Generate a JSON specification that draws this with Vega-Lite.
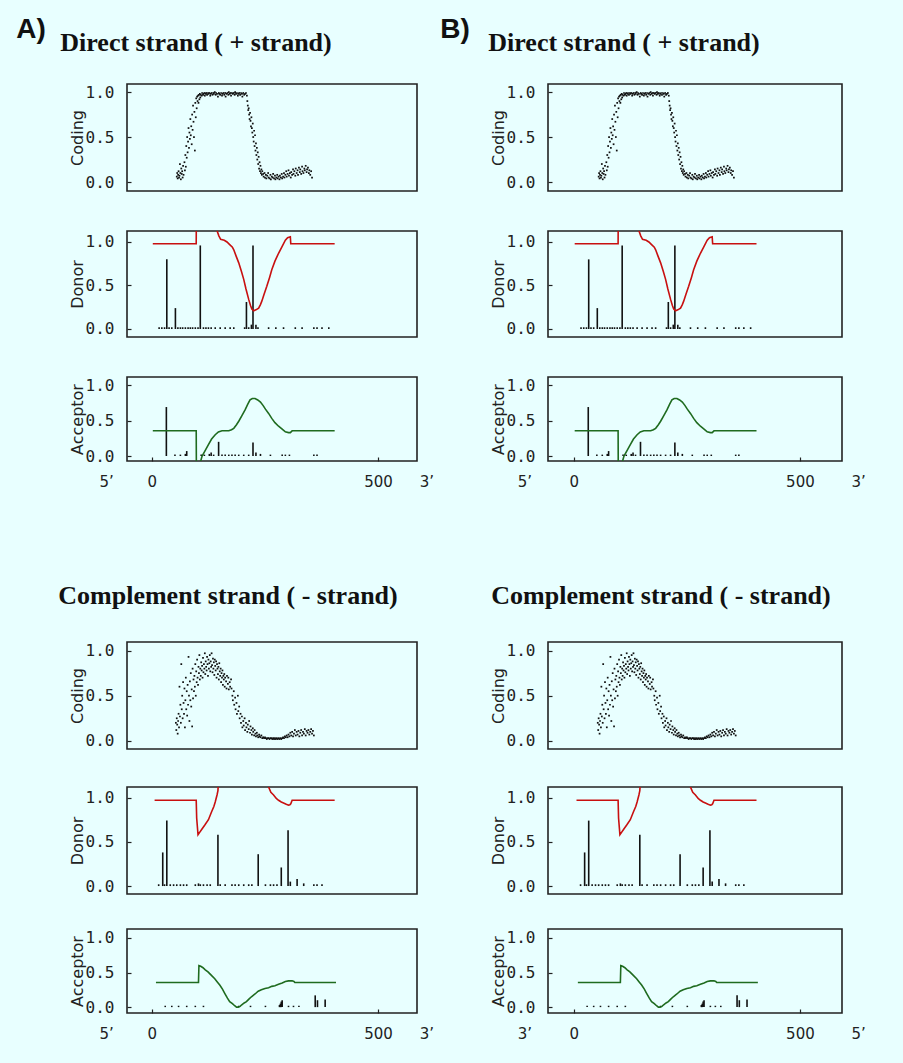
{
"$schema": "https://vega.github.io/schema/vega-lite/v6.json",
"usermeta": {"embedOptions": {"actions": false}},
"background": "#e8ffff",
"padding": {"left": 16, "top": 16, "right": 38, "bottom": 25},
"config": {
 "view": {"stroke": "#222222", "strokeWidth": 1.6},
 "axis": {"grid": false, "domain": false, "tickSize": -4, "tickColor": "#222222", "tickWidth": 1.2, "labelFont": "DejaVu Sans Mono", "labelFontSize": 16, "labelColor": "#222222", "labelPadding": 17, "titleFont": "DejaVu Sans", "titleFontSize": 16, "titleFontWeight": "normal", "titleColor": "#222222", "titlePadding": 0},
 "axisX": {"labelFont": "DejaVu Sans", "labelFontSize": 15, "labelPadding": 17, "labelFlush": false, "labelOverlap": false},
 "text": {"font": "DejaVu Sans", "fontSize": 15, "color": "#222222"},
 "title": {"anchor": "start", "frame": "bounds", "color": "#111111"}
},
"datasets": {
 "codD": [{"x":55,"y":0.06},{"x":56,"y":0.1},{"x":57,"y":0.04},{"x":58,"y":0.08},{"x":59,"y":0.12},{"x":60,"y":0.05},{"x":61,"y":0.07},{"x":62,"y":0.2},{"x":63,"y":0.1},{"x":64,"y":0.03},{"x":65,"y":0.15},{"x":66,"y":0.09},{"x":67,"y":0.12},{"x":68,"y":0.05},{"x":69,"y":0.18},{"x":70,"y":0.08},{"x":72,"y":0.22},{"x":73,"y":0.13},{"x":74,"y":0.3},{"x":75,"y":0.17},{"x":76,"y":0.4},{"x":77,"y":0.27},{"x":78,"y":0.5},{"x":79,"y":0.33},{"x":80,"y":0.45},{"x":81,"y":0.6},{"x":82,"y":0.38},{"x":83,"y":0.55},{"x":84,"y":0.48},{"x":85,"y":0.7},{"x":86,"y":0.52},{"x":87,"y":0.62},{"x":88,"y":0.42},{"x":89,"y":0.75},{"x":90,"y":0.58},{"x":91,"y":0.85},{"x":92,"y":0.67},{"x":93,"y":0.5},{"x":94,"y":0.78},{"x":95,"y":0.35},{"x":96,"y":0.88},{"x":97,"y":0.72},{"x":98,"y":0.93},{"x":99,"y":0.82},{"x":100,"y":0.95},{"x":101,"y":0.9},{"x":102,"y":0.96},{"x":103,"y":0.88},{"x":104,"y":0.97},{"x":105,"y":0.92},{"x":106,"y":0.98},{"x":107,"y":0.94},{"x":108,"y":0.97},{"x":110,"y":0.96},{"x":111,"y":0.99},{"x":113,"y":0.97},{"x":114,"y":0.98},{"x":116,"y":0.99},{"x":117,"y":0.96},{"x":119,"y":0.98},{"x":120,"y":0.99},{"x":122,"y":0.97},{"x":124,"y":0.99},{"x":125,"y":0.98},{"x":127,"y":0.99},{"x":129,"y":0.96},{"x":130,"y":0.98},{"x":132,"y":0.99},{"x":134,"y":0.97},{"x":136,"y":0.99},{"x":137,"y":0.98},{"x":139,"y":1.0},{"x":141,"y":0.97},{"x":142,"y":0.99},{"x":144,"y":0.98},{"x":146,"y":0.95},{"x":148,"y":0.99},{"x":149,"y":0.98},{"x":151,"y":0.97},{"x":153,"y":0.99},{"x":155,"y":0.96},{"x":156,"y":0.98},{"x":158,"y":0.99},{"x":160,"y":0.97},{"x":162,"y":0.99},{"x":163,"y":0.95},{"x":165,"y":0.98},{"x":167,"y":0.99},{"x":169,"y":0.97},{"x":170,"y":1.0},{"x":172,"y":0.98},{"x":174,"y":0.99},{"x":175,"y":0.96},{"x":177,"y":0.99},{"x":179,"y":0.98},{"x":181,"y":0.99},{"x":183,"y":0.97},{"x":184,"y":1.0},{"x":186,"y":0.98},{"x":188,"y":0.99},{"x":190,"y":0.96},{"x":191,"y":0.98},{"x":193,"y":0.99},{"x":195,"y":0.97},{"x":197,"y":0.99},{"x":199,"y":0.98},{"x":200,"y":0.95},{"x":202,"y":0.99},{"x":204,"y":0.97},{"x":206,"y":0.98},{"x":208,"y":0.99},{"x":210,"y":0.96},{"x":211,"y":0.9},{"x":212,"y":0.85},{"x":213,"y":0.8},{"x":214,"y":0.82},{"x":215,"y":0.75},{"x":216,"y":0.7},{"x":217,"y":0.77},{"x":218,"y":0.68},{"x":219,"y":0.62},{"x":220,"y":0.72},{"x":221,"y":0.6},{"x":222,"y":0.55},{"x":223,"y":0.65},{"x":224,"y":0.5},{"x":225,"y":0.45},{"x":226,"y":0.57},{"x":227,"y":0.4},{"x":228,"y":0.52},{"x":229,"y":0.35},{"x":230,"y":0.43},{"x":231,"y":0.3},{"x":232,"y":0.38},{"x":233,"y":0.25},{"x":234,"y":0.33},{"x":235,"y":0.2},{"x":236,"y":0.28},{"x":237,"y":0.15},{"x":238,"y":0.22},{"x":239,"y":0.12},{"x":240,"y":0.18},{"x":241,"y":0.1},{"x":242,"y":0.14},{"x":243,"y":0.08},{"x":244,"y":0.12},{"x":246,"y":0.09},{"x":247,"y":0.06},{"x":249,"y":0.1},{"x":250,"y":0.05},{"x":252,"y":0.08},{"x":253,"y":0.04},{"x":255,"y":0.07},{"x":257,"y":0.1},{"x":258,"y":0.05},{"x":260,"y":0.04},{"x":262,"y":0.08},{"x":263,"y":0.03},{"x":265,"y":0.06},{"x":267,"y":0.05},{"x":268,"y":0.09},{"x":270,"y":0.04},{"x":272,"y":0.07},{"x":273,"y":0.03},{"x":275,"y":0.05},{"x":277,"y":0.08},{"x":278,"y":0.04},{"x":280,"y":0.06},{"x":282,"y":0.03},{"x":283,"y":0.07},{"x":285,"y":0.05},{"x":287,"y":0.09},{"x":288,"y":0.04},{"x":290,"y":0.06},{"x":292,"y":0.1},{"x":293,"y":0.05},{"x":295,"y":0.08},{"x":297,"y":0.12},{"x":298,"y":0.06},{"x":300,"y":0.09},{"x":302,"y":0.13},{"x":303,"y":0.07},{"x":305,"y":0.1},{"x":307,"y":0.05},{"x":308,"y":0.11},{"x":310,"y":0.08},{"x":312,"y":0.14},{"x":313,"y":0.09},{"x":315,"y":0.12},{"x":317,"y":0.07},{"x":318,"y":0.15},{"x":320,"y":0.1},{"x":322,"y":0.13},{"x":323,"y":0.08},{"x":325,"y":0.16},{"x":327,"y":0.11},{"x":328,"y":0.14},{"x":330,"y":0.09},{"x":332,"y":0.17},{"x":333,"y":0.12},{"x":335,"y":0.1},{"x":337,"y":0.15},{"x":338,"y":0.13},{"x":340,"y":0.18},{"x":342,"y":0.11},{"x":343,"y":0.14},{"x":345,"y":0.16},{"x":347,"y":0.1},{"x":348,"y":0.13},{"x":350,"y":0.08},{"x":352,"y":0.12},{"x":354,"y":0.05}],
 "codC": [{"x":53,"y":0.2},{"x":54,"y":0.12},{"x":55,"y":0.25},{"x":56,"y":0.18},{"x":57,"y":0.08},{"x":58,"y":0.22},{"x":59,"y":0.3},{"x":60,"y":0.15},{"x":61,"y":0.6},{"x":62,"y":0.27},{"x":63,"y":0.4},{"x":64,"y":0.2},{"x":65,"y":0.85},{"x":66,"y":0.35},{"x":67,"y":0.5},{"x":68,"y":0.25},{"x":69,"y":0.65},{"x":70,"y":0.42},{"x":71,"y":0.3},{"x":72,"y":0.58},{"x":73,"y":0.15},{"x":74,"y":0.45},{"x":75,"y":0.7},{"x":76,"y":0.35},{"x":77,"y":0.55},{"x":78,"y":0.28},{"x":79,"y":0.62},{"x":80,"y":0.4},{"x":81,"y":0.93},{"x":82,"y":0.5},{"x":83,"y":0.22},{"x":84,"y":0.66},{"x":85,"y":0.45},{"x":86,"y":0.75},{"x":87,"y":0.38},{"x":88,"y":0.57},{"x":89,"y":0.16},{"x":90,"y":0.8},{"x":91,"y":0.47},{"x":92,"y":0.68},{"x":93,"y":0.55},{"x":94,"y":0.72},{"x":95,"y":0.6},{"x":96,"y":0.85},{"x":97,"y":0.5},{"x":98,"y":0.77},{"x":99,"y":0.65},{"x":100,"y":0.9},{"x":101,"y":0.7},{"x":102,"y":0.62},{"x":103,"y":0.82},{"x":104,"y":0.75},{"x":105,"y":0.95},{"x":106,"y":0.68},{"x":107,"y":0.8},{"x":108,"y":0.72},{"x":109,"y":0.87},{"x":110,"y":0.78},{"x":111,"y":0.83},{"x":112,"y":0.7},{"x":113,"y":0.92},{"x":114,"y":0.76},{"x":115,"y":0.85},{"x":116,"y":0.8},{"x":117,"y":0.97},{"x":118,"y":0.74},{"x":119,"y":0.88},{"x":120,"y":0.82},{"x":121,"y":0.78},{"x":122,"y":0.93},{"x":123,"y":0.85},{"x":124,"y":0.72},{"x":125,"y":0.9},{"x":126,"y":0.8},{"x":127,"y":0.86},{"x":128,"y":0.95},{"x":129,"y":0.77},{"x":130,"y":0.88},{"x":131,"y":0.82},{"x":132,"y":0.97},{"x":133,"y":0.84},{"x":134,"y":0.76},{"x":135,"y":0.91},{"x":136,"y":0.8},{"x":137,"y":0.87},{"x":138,"y":0.73},{"x":139,"y":0.9},{"x":140,"y":0.83},{"x":141,"y":0.78},{"x":142,"y":0.88},{"x":143,"y":0.7},{"x":144,"y":0.85},{"x":145,"y":0.8},{"x":146,"y":0.74},{"x":147,"y":0.82},{"x":148,"y":0.68},{"x":149,"y":0.86},{"x":150,"y":0.77},{"x":151,"y":0.72},{"x":152,"y":0.8},{"x":153,"y":0.65},{"x":154,"y":0.75},{"x":155,"y":0.7},{"x":156,"y":0.78},{"x":157,"y":0.62},{"x":158,"y":0.72},{"x":159,"y":0.68},{"x":160,"y":0.74},{"x":161,"y":0.6},{"x":162,"y":0.7},{"x":164,"y":0.66},{"x":165,"y":0.58},{"x":166,"y":0.72},{"x":168,"y":0.63},{"x":169,"y":0.7},{"x":170,"y":0.57},{"x":172,"y":0.65},{"x":173,"y":0.6},{"x":175,"y":0.68},{"x":176,"y":0.58},{"x":178,"y":0.5},{"x":179,"y":0.45},{"x":181,"y":0.55},{"x":182,"y":0.4},{"x":184,"y":0.48},{"x":185,"y":0.35},{"x":187,"y":0.42},{"x":188,"y":0.3},{"x":190,"y":0.5},{"x":191,"y":0.33},{"x":193,"y":0.38},{"x":194,"y":0.25},{"x":196,"y":0.3},{"x":197,"y":0.2},{"x":199,"y":0.27},{"x":200,"y":0.15},{"x":202,"y":0.22},{"x":203,"y":0.17},{"x":205,"y":0.25},{"x":206,"y":0.12},{"x":208,"y":0.2},{"x":209,"y":0.15},{"x":211,"y":0.1},{"x":212,"y":0.18},{"x":214,"y":0.13},{"x":215,"y":0.22},{"x":217,"y":0.09},{"x":218,"y":0.16},{"x":220,"y":0.12},{"x":221,"y":0.07},{"x":223,"y":0.14},{"x":224,"y":0.1},{"x":226,"y":0.06},{"x":227,"y":0.12},{"x":229,"y":0.08},{"x":230,"y":0.05},{"x":232,"y":0.09},{"x":233,"y":0.06},{"x":235,"y":0.04},{"x":237,"y":0.07},{"x":238,"y":0.05},{"x":240,"y":0.04},{"x":242,"y":0.06},{"x":244,"y":0.03},{"x":246,"y":0.04},{"x":248,"y":0.03},{"x":250,"y":0.04},{"x":252,"y":0.03},{"x":254,"y":0.02},{"x":256,"y":0.03},{"x":258,"y":0.03},{"x":260,"y":0.02},{"x":262,"y":0.03},{"x":264,"y":0.03},{"x":266,"y":0.02},{"x":268,"y":0.03},{"x":270,"y":0.02},{"x":272,"y":0.03},{"x":274,"y":0.02},{"x":276,"y":0.03},{"x":278,"y":0.02},{"x":280,"y":0.03},{"x":282,"y":0.02},{"x":284,"y":0.03},{"x":286,"y":0.02},{"x":288,"y":0.03},{"x":290,"y":0.04},{"x":292,"y":0.03},{"x":294,"y":0.05},{"x":296,"y":0.04},{"x":298,"y":0.06},{"x":300,"y":0.04},{"x":302,"y":0.07},{"x":304,"y":0.05},{"x":306,"y":0.09},{"x":308,"y":0.06},{"x":310,"y":0.1},{"x":312,"y":0.05},{"x":314,"y":0.08},{"x":316,"y":0.12},{"x":318,"y":0.06},{"x":320,"y":0.1},{"x":322,"y":0.07},{"x":324,"y":0.11},{"x":326,"y":0.05},{"x":328,"y":0.09},{"x":330,"y":0.12},{"x":332,"y":0.06},{"x":334,"y":0.1},{"x":336,"y":0.08},{"x":338,"y":0.13},{"x":340,"y":0.06},{"x":342,"y":0.11},{"x":344,"y":0.09},{"x":346,"y":0.12},{"x":348,"y":0.07},{"x":350,"y":0.1},{"x":352,"y":0.13},{"x":354,"y":0.08},{"x":356,"y":0.11},{"x":358,"y":0.06}],
 "donDs": [{"x":16,"v":0.02},{"x":22,"v":0.02},{"x":28,"v":0.02},{"x":33,"v":0.8},{"x":38,"v":0.02},{"x":44,"v":0.02},{"x":52,"v":0.24},{"x":57.5,"v":0.02},{"x":63,"v":0.02},{"x":68,"v":0.02},{"x":74,"v":0.02},{"x":80,"v":0.02},{"x":85,"v":0.02},{"x":90,"v":0.02},{"x":96,"v":0.02},{"x":102,"v":0.02},{"x":107,"v":0.96},{"x":114,"v":0.02},{"x":119.5,"v":0.02},{"x":125,"v":0.02},{"x":131,"v":0.02},{"x":140,"v":0.02},{"x":151,"v":0.02},{"x":162,"v":0.02},{"x":173,"v":0.02},{"x":181,"v":0.02},{"x":205,"v":0.02},{"x":209,"v":0.31},{"x":214,"v":0.02},{"x":220,"v":0.05},{"x":223.5,"v":0.96},{"x":230,"v":0.05},{"x":234.5,"v":0.02},{"x":258,"v":0.02},{"x":274,"v":0.02},{"x":291,"v":0.02},{"x":317,"v":0.02},{"x":332,"v":0.02},{"x":358,"v":0.02},{"x":365,"v":0.02},{"x":376,"v":0.02},{"x":391,"v":0.02}],
 "donDl": [{"x":2,"y":0.98},{"x":98,"y":0.98},{"x":98.5,"y":1.6},{"x":120,"y":1.9},{"x":140,"y":1.3},{"x":144,"y":1.13},{"x":148,"y":1.07},{"x":152,"y":1.03},{"x":160,"y":1.02},{"x":166,"y":1.0},{"x":172,"y":0.97},{"x":178,"y":0.94},{"x":181,"y":0.91},{"x":186,"y":0.84},{"x":192,"y":0.76},{"x":198,"y":0.66},{"x":203,"y":0.57},{"x":208,"y":0.46},{"x":214,"y":0.34},{"x":218,"y":0.27},{"x":221,"y":0.23},{"x":225,"y":0.21},{"x":230,"y":0.22},{"x":236,"y":0.24},{"x":240,"y":0.28},{"x":243,"y":0.32},{"x":248,"y":0.4},{"x":254,"y":0.49},{"x":260,"y":0.59},{"x":265,"y":0.68},{"x":272,"y":0.78},{"x":280,"y":0.87},{"x":288,"y":0.95},{"x":295,"y":1.02},{"x":300,"y":1.05},{"x":306,"y":1.06},{"x":307,"y":0.98},{"x":404,"y":0.98}],
 "accDs": [{"x":32,"v":0.69},{"x":51,"v":0.02},{"x":63,"v":0.02},{"x":74,"v":0.03},{"x":77,"v":0.07},{"x":109,"v":0.02},{"x":116,"v":0.02},{"x":127,"v":0.03},{"x":131,"v":0.05},{"x":136.5,"v":0.02},{"x":147.5,"v":0.2},{"x":155,"v":0.02},{"x":162,"v":0.02},{"x":170,"v":0.02},{"x":177,"v":0.02},{"x":184,"v":0.02},{"x":192,"v":0.02},{"x":203,"v":0.02},{"x":214,"v":0.02},{"x":223.5,"v":0.19},{"x":230,"v":0.05},{"x":240,"v":0.03},{"x":262,"v":0.02},{"x":288,"v":0.02},{"x":295,"v":0.02},{"x":304,"v":0.02},{"x":358,"v":0.02},{"x":365,"v":0.02}],
 "accDl": [{"x":2,"y":0.355},{"x":98,"y":0.355},{"x":98.5,"y":-0.4},{"x":104,"y":-0.3},{"x":107,"y":-0.09},{"x":111,"y":0.0},{"x":118,"y":0.08},{"x":125,"y":0.16},{"x":132,"y":0.24},{"x":140,"y":0.3},{"x":147,"y":0.34},{"x":155,"y":0.355},{"x":170,"y":0.355},{"x":176,"y":0.37},{"x":181,"y":0.39},{"x":187,"y":0.44},{"x":192,"y":0.49},{"x":199,"y":0.57},{"x":206,"y":0.65},{"x":212,"y":0.73},{"x":217,"y":0.79},{"x":222,"y":0.81},{"x":228,"y":0.81},{"x":234,"y":0.79},{"x":240,"y":0.76},{"x":246,"y":0.71},{"x":251,"y":0.66},{"x":258,"y":0.6},{"x":265,"y":0.53},{"x":272,"y":0.47},{"x":280,"y":0.42},{"x":288,"y":0.38},{"x":295,"y":0.34},{"x":302,"y":0.33},{"x":306,"y":0.33},{"x":310,"y":0.355},{"x":404,"y":0.355}],
 "donCs": [{"x":15,"v":0.02},{"x":24,"v":0.38},{"x":28,"v":0.02},{"x":33,"v":0.74},{"x":40.6,"v":0.02},{"x":48,"v":0.02},{"x":55,"v":0.02},{"x":63,"v":0.02},{"x":70,"v":0.02},{"x":77,"v":0.02},{"x":96,"v":0.02},{"x":103,"v":0.03},{"x":107,"v":0.02},{"x":114,"v":0.02},{"x":122,"v":0.02},{"x":129,"v":0.02},{"x":146,"v":0.58},{"x":151,"v":0.02},{"x":162,"v":0.02},{"x":177,"v":0.02},{"x":184,"v":0.02},{"x":192,"v":0.02},{"x":203,"v":0.02},{"x":214,"v":0.02},{"x":221,"v":0.02},{"x":235,"v":0.36},{"x":251,"v":0.02},{"x":262,"v":0.02},{"x":269,"v":0.02},{"x":276.5,"v":0.02},{"x":286,"v":0.21},{"x":301,"v":0.63},{"x":306,"v":0.05},{"x":321,"v":0.08},{"x":335.6,"v":0.03},{"x":358,"v":0.02},{"x":365,"v":0.02},{"x":376,"v":0.02}],
 "donCl": [{"x":6,"y":0.97},{"x":98,"y":0.97},{"x":99,"y":0.77},{"x":102,"y":0.58},{"x":106,"y":0.61},{"x":110,"y":0.64},{"x":117,"y":0.69},{"x":125,"y":0.75},{"x":132,"y":0.84},{"x":137,"y":0.9},{"x":140,"y":0.95},{"x":144,"y":1.03},{"x":146,"y":1.08},{"x":148,"y":1.25},{"x":152,"y":1.6},{"x":200,"y":2.0},{"x":250,"y":1.5},{"x":258,"y":1.12},{"x":263,"y":1.06},{"x":269,"y":1.03},{"x":275,"y":0.99},{"x":280,"y":0.97},{"x":286,"y":0.95},{"x":291,"y":0.94},{"x":297,"y":0.925},{"x":302,"y":0.915},{"x":305,"y":0.92},{"x":307,"y":0.93},{"x":310,"y":0.97},{"x":404,"y":0.97}],
 "accCs": [{"x":29.5,"v":0.02},{"x":44,"v":0.02},{"x":59,"v":0.02},{"x":77,"v":0.02},{"x":96,"v":0.02},{"x":114,"v":0.02},{"x":192,"v":0.02},{"x":218,"v":0.02},{"x":251,"v":0.02},{"x":282,"v":0.03},{"x":284,"v":0.05},{"x":286,"v":0.08},{"x":288,"v":0.1},{"x":302,"v":0.02},{"x":313,"v":0.02},{"x":325,"v":0.02},{"x":361,"v":0.17},{"x":366,"v":0.1},{"x":383,"v":0.11}],
 "accCl": [{"x":9,"y":0.356},{"x":103,"y":0.356},{"x":104,"y":0.6},{"x":108,"y":0.59},{"x":113,"y":0.57},{"x":118,"y":0.54},{"x":124,"y":0.51},{"x":130,"y":0.47},{"x":139,"y":0.41},{"x":145,"y":0.36},{"x":150,"y":0.32},{"x":156,"y":0.26},{"x":161,"y":0.2},{"x":167,"y":0.13},{"x":172,"y":0.08},{"x":178,"y":0.05},{"x":183,"y":0.02},{"x":187,"y":0.0},{"x":191,"y":0.0},{"x":195,"y":0.01},{"x":198,"y":0.03},{"x":204,"y":0.06},{"x":209,"y":0.08},{"x":215,"y":0.12},{"x":220,"y":0.15},{"x":228,"y":0.19},{"x":235,"y":0.23},{"x":242,"y":0.25},{"x":250,"y":0.27},{"x":258,"y":0.28},{"x":265,"y":0.3},{"x":272,"y":0.31},{"x":280,"y":0.33},{"x":288,"y":0.35},{"x":295,"y":0.37},{"x":302,"y":0.38},{"x":310,"y":0.38},{"x":314,"y":0.37},{"x":316,"y":0.356},{"x":407,"y":0.356}],
 "prA": [{"x":-100,"t":"5’"},{"x":608,"t":"3’"}],
 "prB": [{"x":-108,"t":"5’"},{"x":630,"t":"3’"}],
 "prB2": [{"x":-108,"t":"3’"},{"x":630,"t":"5’"}]
},
"hconcat": [
 {
  "title": {"text": "A)", "font": "Liberation Sans", "fontSize": 28, "fontWeight": "bold", "offset": -14, "dx": -42},
  "spacing": 92,
  "vconcat": [
   {
    "title": {"text": "Direct strand ( + strand)", "font": "Liberation Serif", "fontSize": 26, "fontWeight": "bold", "offset": 27, "dx": -8},
    "spacing": 38,
    "vconcat": [
     {"width": 290, "height": 107, "data": {"name": "codD"}, "mark": {"type": "square", "size": 3, "color": "#111111", "opacity": 1},
      "encoding": {"x": {"field": "x", "type": "quantitative", "scale": {"domain": [-55, 586], "nice": false, "zero": false}, "axis": null},
       "y": {"field": "y", "type": "quantitative", "scale": {"domain": [-0.1, 1.09], "nice": false, "zero": false}, "axis": {"values": [0, 0.5, 1], "format": ".1f", "title": "Coding"}}}},
     {"width": 290, "height": 106, "layer": [
      {"data": {"name": "donDs"}, "mark": {"type": "rule", "color": "#111111", "strokeWidth": 1.6},
       "encoding": {"x": {"field": "x", "type": "quantitative", "scale": {"domain": [-55, 586], "nice": false, "zero": false}, "axis": null},
        "y": {"field": "v", "type": "quantitative", "scale": {"domain": [-0.092, 1.126], "nice": false, "zero": false}, "axis": {"values": [0, 0.5, 1], "format": ".1f", "title": "Donor"}}, "y2": {"datum": 0}}},
      {"data": {"name": "donDl"}, "mark": {"type": "line", "color": "#c81010", "strokeWidth": 1.6, "clip": true},
       "encoding": {"x": {"field": "x", "type": "quantitative", "axis": null}, "y": {"field": "y", "type": "quantitative", "axis": {"values": [0, 0.5, 1], "format": ".1f", "title": "Donor"}}}}
     ]},
     {"width": 290, "height": 84, "layer": [
      {"data": {"name": "accDs"}, "mark": {"type": "rule", "color": "#111111", "strokeWidth": 1.6},
       "encoding": {"x": {"field": "x", "type": "quantitative", "scale": {"domain": [-55, 586], "nice": false, "zero": false}, "axis": {"values": [0, 500], "title": null}},
        "y": {"field": "v", "type": "quantitative", "scale": {"domain": [-0.07, 1.113], "nice": false, "zero": false}, "axis": {"values": [0, 0.5, 1], "format": ".1f", "title": "Acceptor"}}, "y2": {"datum": 0}}},
      {"data": {"name": "accDl"}, "mark": {"type": "line", "color": "#1f6b1f", "strokeWidth": 1.6, "clip": true},
       "encoding": {"x": {"field": "x", "type": "quantitative"}, "y": {"field": "y", "type": "quantitative", "axis": {"values": [0, 0.5, 1], "format": ".1f", "title": "Acceptor"}}}},
      {"data": {"name": "prA"}, "mark": {"type": "text", "dy": 21, "baseline": "middle", "align": "center"},
       "encoding": {"x": {"field": "x", "type": "quantitative"}, "y": {"value": "height"}, "text": {"field": "t"}}}
     ]}
    ]
   },
   {
    "title": {"text": "Complement strand ( - strand)", "font": "Liberation Serif", "fontSize": 26, "fontWeight": "bold", "offset": 32, "dx": -10},
    "spacing": 36,
    "vconcat": [
     {"width": 290, "height": 107, "data": {"name": "codC"}, "mark": {"type": "square", "size": 3, "color": "#111111", "opacity": 1},
      "encoding": {"x": {"field": "x", "type": "quantitative", "scale": {"domain": [-55, 586], "nice": false, "zero": false}, "axis": null},
       "y": {"field": "y", "type": "quantitative", "scale": {"domain": [-0.09, 1.095], "nice": false, "zero": false}, "axis": {"values": [0, 0.5, 1], "format": ".1f", "title": "Coding"}}}},
     {"spacing": 33, "vconcat": [
      {"width": 290, "height": 107, "layer": [
       {"data": {"name": "donCs"}, "mark": {"type": "rule", "color": "#111111", "strokeWidth": 1.6},
        "encoding": {"x": {"field": "x", "type": "quantitative", "scale": {"domain": [-55, 586], "nice": false, "zero": false}, "axis": null},
         "y": {"field": "v", "type": "quantitative", "scale": {"domain": [-0.09, 1.12], "nice": false, "zero": false}, "axis": {"values": [0, 0.5, 1], "format": ".1f", "title": "Donor"}}, "y2": {"datum": 0}}},
       {"data": {"name": "donCl"}, "mark": {"type": "line", "color": "#c81010", "strokeWidth": 1.6, "clip": true},
        "encoding": {"x": {"field": "x", "type": "quantitative", "axis": null}, "y": {"field": "y", "type": "quantitative", "axis": {"values": [0, 0.5, 1], "format": ".1f", "title": "Donor"}}}}
      ]},
      {"width": 290, "height": 84, "layer": [
       {"data": {"name": "accCs"}, "mark": {"type": "rule", "color": "#111111", "strokeWidth": 1.6},
        "encoding": {"x": {"field": "x", "type": "quantitative", "scale": {"domain": [-55, 586], "nice": false, "zero": false}, "axis": {"values": [0, 500], "title": null}},
         "y": {"field": "v", "type": "quantitative", "scale": {"domain": [-0.085, 1.13], "nice": false, "zero": false}, "axis": {"values": [0, 0.5, 1], "format": ".1f", "title": "Acceptor"}}, "y2": {"datum": 0}}},
       {"data": {"name": "accCl"}, "mark": {"type": "line", "color": "#1f6b1f", "strokeWidth": 1.6, "clip": true},
        "encoding": {"x": {"field": "x", "type": "quantitative"}, "y": {"field": "y", "type": "quantitative", "axis": {"values": [0, 0.5, 1], "format": ".1f", "title": "Acceptor"}}}},
       {"data": {"name": "prA"}, "mark": {"type": "text", "dy": 21, "baseline": "middle", "align": "center"},
        "encoding": {"x": {"field": "x", "type": "quantitative"}, "y": {"value": "height"}, "text": {"field": "t"}}}
      ]}
     ]}
    ]
   }
  ]
 },
 {
  "title": {"text": "B)", "font": "Liberation Sans", "fontSize": 28, "fontWeight": "bold", "offset": -14, "dx": -48},
  "spacing": 92,
  "vconcat": [
   {
    "title": {"text": "Direct strand ( + strand)", "font": "Liberation Serif", "fontSize": 26, "fontWeight": "bold", "offset": 27, "dx": -1},
    "spacing": 38,
    "vconcat": [
     {"width": 294, "height": 107, "data": {"name": "codD"}, "mark": {"type": "square", "size": 3, "color": "#111111", "opacity": 1},
      "encoding": {"x": {"field": "x", "type": "quantitative", "scale": {"domain": [-57, 593], "nice": false, "zero": false}, "axis": null},
       "y": {"field": "y", "type": "quantitative", "scale": {"domain": [-0.1, 1.09], "nice": false, "zero": false}, "axis": {"values": [0, 0.5, 1], "format": ".1f", "title": "Coding"}}}},
     {"width": 294, "height": 106, "layer": [
      {"data": {"name": "donDs"}, "mark": {"type": "rule", "color": "#111111", "strokeWidth": 1.6},
       "encoding": {"x": {"field": "x", "type": "quantitative", "scale": {"domain": [-57, 593], "nice": false, "zero": false}, "axis": null},
        "y": {"field": "v", "type": "quantitative", "scale": {"domain": [-0.092, 1.126], "nice": false, "zero": false}, "axis": {"values": [0, 0.5, 1], "format": ".1f", "title": "Donor"}}, "y2": {"datum": 0}}},
      {"data": {"name": "donDl"}, "mark": {"type": "line", "color": "#c81010", "strokeWidth": 1.6, "clip": true},
       "encoding": {"x": {"field": "x", "type": "quantitative", "axis": null}, "y": {"field": "y", "type": "quantitative", "axis": {"values": [0, 0.5, 1], "format": ".1f", "title": "Donor"}}}}
     ]},
     {"width": 294, "height": 84, "layer": [
      {"data": {"name": "accDs"}, "mark": {"type": "rule", "color": "#111111", "strokeWidth": 1.6},
       "encoding": {"x": {"field": "x", "type": "quantitative", "scale": {"domain": [-57, 593], "nice": false, "zero": false}, "axis": {"values": [0, 500], "title": null}},
        "y": {"field": "v", "type": "quantitative", "scale": {"domain": [-0.07, 1.113], "nice": false, "zero": false}, "axis": {"values": [0, 0.5, 1], "format": ".1f", "title": "Acceptor"}}, "y2": {"datum": 0}}},
      {"data": {"name": "accDl"}, "mark": {"type": "line", "color": "#1f6b1f", "strokeWidth": 1.6, "clip": true},
       "encoding": {"x": {"field": "x", "type": "quantitative"}, "y": {"field": "y", "type": "quantitative", "axis": {"values": [0, 0.5, 1], "format": ".1f", "title": "Acceptor"}}}},
      {"data": {"name": "prB"}, "mark": {"type": "text", "dy": 21, "baseline": "middle", "align": "center"},
       "encoding": {"x": {"field": "x", "type": "quantitative"}, "y": {"value": "height"}, "text": {"field": "t"}}}
     ]}
    ]
   },
   {
    "title": {"text": "Complement strand ( - strand)", "font": "Liberation Serif", "fontSize": 26, "fontWeight": "bold", "offset": 32, "dx": 2},
    "spacing": 36,
    "vconcat": [
     {"width": 294, "height": 107, "data": {"name": "codC"}, "mark": {"type": "square", "size": 3, "color": "#111111", "opacity": 1},
      "encoding": {"x": {"field": "x", "type": "quantitative", "scale": {"domain": [-57, 593], "nice": false, "zero": false}, "axis": null},
       "y": {"field": "y", "type": "quantitative", "scale": {"domain": [-0.09, 1.095], "nice": false, "zero": false}, "axis": {"values": [0, 0.5, 1], "format": ".1f", "title": "Coding"}}}},
     {"spacing": 33, "vconcat": [
      {"width": 294, "height": 107, "layer": [
       {"data": {"name": "donCs"}, "mark": {"type": "rule", "color": "#111111", "strokeWidth": 1.6},
        "encoding": {"x": {"field": "x", "type": "quantitative", "scale": {"domain": [-57, 593], "nice": false, "zero": false}, "axis": null},
         "y": {"field": "v", "type": "quantitative", "scale": {"domain": [-0.09, 1.12], "nice": false, "zero": false}, "axis": {"values": [0, 0.5, 1], "format": ".1f", "title": "Donor"}}, "y2": {"datum": 0}}},
       {"data": {"name": "donCl"}, "mark": {"type": "line", "color": "#c81010", "strokeWidth": 1.6, "clip": true},
        "encoding": {"x": {"field": "x", "type": "quantitative", "axis": null}, "y": {"field": "y", "type": "quantitative", "axis": {"values": [0, 0.5, 1], "format": ".1f", "title": "Donor"}}}}
      ]},
      {"width": 294, "height": 84, "layer": [
       {"data": {"name": "accCs"}, "mark": {"type": "rule", "color": "#111111", "strokeWidth": 1.6},
        "encoding": {"x": {"field": "x", "type": "quantitative", "scale": {"domain": [-57, 593], "nice": false, "zero": false}, "axis": {"values": [0, 500], "title": null}},
         "y": {"field": "v", "type": "quantitative", "scale": {"domain": [-0.085, 1.13], "nice": false, "zero": false}, "axis": {"values": [0, 0.5, 1], "format": ".1f", "title": "Acceptor"}}, "y2": {"datum": 0}}},
       {"data": {"name": "accCl"}, "mark": {"type": "line", "color": "#1f6b1f", "strokeWidth": 1.6, "clip": true},
        "encoding": {"x": {"field": "x", "type": "quantitative"}, "y": {"field": "y", "type": "quantitative", "axis": {"values": [0, 0.5, 1], "format": ".1f", "title": "Acceptor"}}}},
       {"data": {"name": "prB2"}, "mark": {"type": "text", "dy": 21, "baseline": "middle", "align": "center"},
        "encoding": {"x": {"field": "x", "type": "quantitative"}, "y": {"value": "height"}, "text": {"field": "t"}}}
      ]}
     ]}
    ]
   }
  ]
 }
],
"spacing": 5
}
